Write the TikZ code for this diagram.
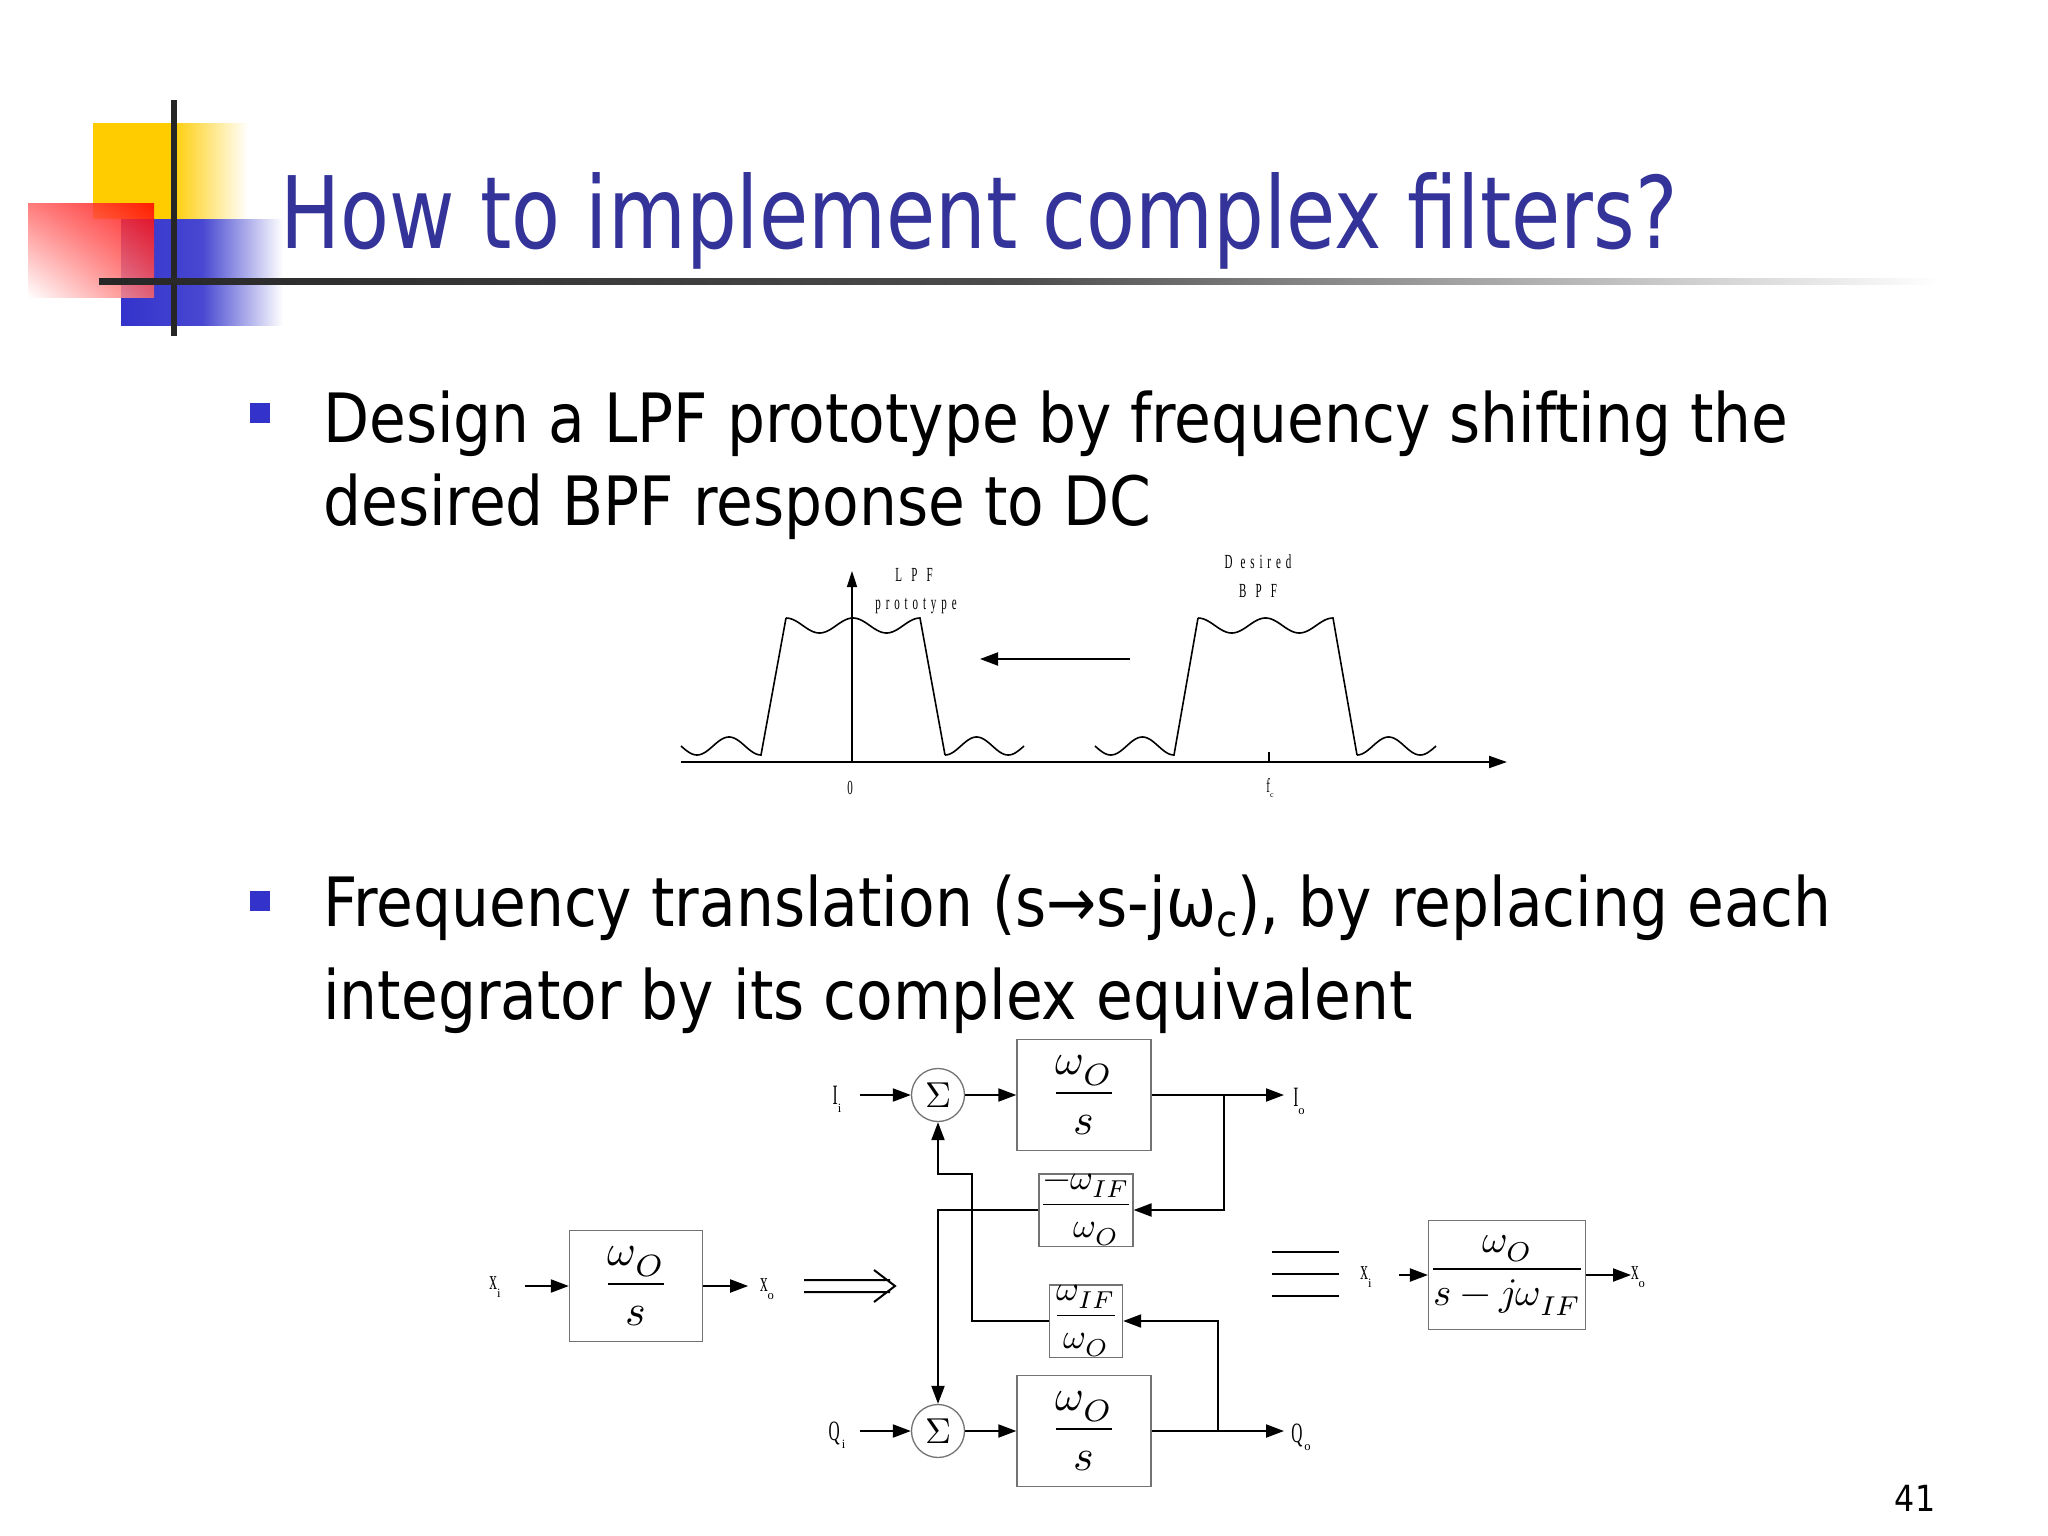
\documentclass[tikz,border=0pt]{standalone}
\usepackage{amsmath}
\usepackage{fontspec}
\usepackage{unicode-math}
\setmainfont{DejaVu Sans}[FakeStretch=0.88]
\newfontfamily\titlefont{DejaVu Sans}[FakeStretch=0.8]
\newfontfamily\lblfont{Liberation Serif}
\usetikzlibrary{arrows.meta,shapes.geometric,shadings}
\definecolor{titleblue}{RGB}{51,51,153}
\definecolor{bulletblue}{RGB}{51,51,204}
\definecolor{logoyellow}{RGB}{255,204,0}
\definecolor{logoblue}{RGB}{51,51,204}
\tikzset{
  blk/.style={draw=black!55,line width=1.3pt,minimum width=134pt,minimum height=111pt,inner sep=0pt},
  sblk/.style={draw=black!55,line width=1.3pt,minimum width=73pt,minimum height=72pt,inner sep=0pt},
  sumc/.style={circle,draw=black!55,line width=1.3pt,minimum size=53pt,inner sep=0pt},
  wire/.style={line width=2pt},
  arr/.style={line width=2pt,-{Triangle[length=18pt,width=13pt]}},
  lbl/.style={font=\lblfont\fontsize{28}{30}\selectfont,inner sep=0pt},
  tiny/.style={font=\lblfont\fontsize{20}{22}\selectfont,inner sep=0pt},
  bul/.style={fill=bulletblue,minimum size=20pt,inner sep=0pt},
  body/.style={anchor=base west,inner sep=0pt,font=\fontsize{68}{80}\selectfont},
  curve/.style={line width=1.6pt}
}
\newcommand{\sq}[1]{\scalebox{0.55}[1]{#1}}
\newcommand{\lsub}[2]{\sq{#1}\raisebox{-8pt}{\scalebox{0.45}{#2}}}
\newcommand{\bxmath}[1]{\scalebox{4.4}{$\displaystyle #1$}}
\newcommand{\sbxmath}[1]{\scalebox{3.5}{$\displaystyle #1$}}
\begin{document}
\begin{tikzpicture}[x=1pt,y=-1pt]
\useasboundingbox (0,0) rectangle (2048,1536);
\fill[white] (0,0) rectangle (2048,1536);
% logo
\shade[left color=logoyellow,right color=white,middle color=logoyellow] (93,124) rectangle (248,218);
\shade[left color=logoblue,right color=white,middle color=logoblue!90] (121,219) rectangle (283,325);
\shade[upper right=red,lower left=white,upper left=red!60,lower right=red!60,opacity=0.85] (28,203) rectangle (154,297);
\fill[black!85] (171,100) rectangle (177,336);
\shade[left color=black!85,right color=white,middle color=black!70] (99,278) rectangle (1940,284);
% title
\node[anchor=base west,inner sep=0pt,text=titleblue,font=\titlefont\fontsize{100}{110}\selectfont] (title) at (280,248) {How to implement complex filters?};
% bullets
\node[bul] (b1) at (260,413) {};
\node[body] (t1a) at (323,442) {Design a LPF prototype by frequency shifting the};
\node[body] (t1b) at (323,525) {desired BPF response to DC};
\node[bul] (b2) at (260,901) {};
\node[body] (t2a) at (323,926) {Frequency translation (s→s-jω\raisebox{-10pt}{\fontsize{44}{44}\selectfont c}), by replacing each};
\node[body] (t2b) at (323,1019) {integrator by its complex equivalent};
% spectrum
\begin{scope}[shift={(0,-6)}]
\coordinate (axL) at (681,768); \coordinate (axR) at (1507,768);
\draw[wire,-{Triangle[length=18pt,width=12pt]}] (axL) -- (axR);
\coordinate (vb) at (852,768); \coordinate (vt) at (852,577);
\draw[line width=1.6pt,-{Triangle[length=16pt,width=10pt]}] (vb) -- (vt);
\draw[line width=1.6pt] (1269,768) -- (1269,758);
\draw[curve] plot[domain=90:540,samples=50] ({681+(\x-90)/450*80},{761-18*(1+cos(\x))/2})
  -- (786,624) plot[domain=0:720,samples=70] ({786+\x/720*134},{624+15*(1-cos(\x))/2})
  -- (945,761) plot[domain=180:630,samples=50] ({945+(\x-180)/450*79},{761-18*(1+cos(\x))/2});
\draw[curve] plot[domain=90:540,samples=50] ({1095+(\x-90)/450*79},{761-18*(1+cos(\x))/2})
  -- (1198,624) plot[domain=0:720,samples=70] ({1198+\x/720*135},{624+15*(1-cos(\x))/2})
  -- (1357,761) plot[domain=180:630,samples=50] ({1357+(\x-180)/450*79},{761-18*(1+cos(\x))/2});
\coordinate (sa) at (1130,665); \coordinate (sb) at (980,665);
\draw[arr] (sa) -- (sb);
\node[tiny] (l1) at (914,581) {\sq{L\;\;\;P\;\;\;F}};
\node[tiny] (l2) at (916,612) {\sq{p\;\,r\;\,o\;\,t\;\,o\;\,t\;\,y\;\,p\;\,e}};
\node[tiny] (l3) at (1258,568) {\sq{D\;\;\,e\;\,s\;\,i\;\,r\;\,e\;\,d}};
\node[tiny] (l4) at (1258,597) {\sq{B\;\;\;P\;\;\;F}};
\node[tiny] (l5) at (850,794) {\sq{0}};
\node[tiny] (l6) at (1270,794) {\sq{f}\raisebox{-5pt}{\scalebox{0.4}{c}}};
\end{scope}
% left block
\node[blk,minimum height=111pt,minimum width=133pt] (lb) at (636,1286) {\bxmath{\frac{\omega_O}{s}}};
\node[lbl] (lxi) at (495,1287) {\lsub{x}{i}};
\node[lbl] (lxo) at (767,1289) {\lsub{x}{o}};
\coordinate (lxa) at (525,1286);
\draw[arr] (lxa) -- (lb.west);
\draw[arr] (lb.east) -- ++(45,0) coordinate (lxb);
\coordinate (d1) at (804,1280); \coordinate (d2) at (890,1280);
\coordinate (d3) at (804,1292); \coordinate (d4) at (890,1292);
\coordinate (d5) at (874,1270); \coordinate (d6) at (895,1286); \coordinate (d7) at (874,1302);
\draw[line width=2pt] (d1) -- (d2) (d3) -- (d4) (d5) -- (d6) -- (d7);
% complex block
\begin{scope}[shift={(-9,-11)}]
\node[sumc] (s1) at (947,1106) {\scalebox{3.6}{$\Sigma$}};
\node[sumc] (s2) at (947,1442) {\scalebox{3.6}{$\Sigma$}};
\node[blk] (i1) at (1093,1106) {\bxmath{\frac{\omega_O}{s}}};
\node[blk] (i2) at (1093,1442) {\bxmath{\frac{\omega_O}{s}}};
\node[sblk] (f1) at (1095,1221) {\sbxmath{\frac{-\omega_{IF}}{\;\;\omega_O}}};
\node[sblk] (f2) at (1095,1332) {\sbxmath{\frac{\omega_{IF}}{\omega_O}}};
\node[lbl] (Ii) at (846,1110) {\lsub{I}{i}};
\node[lbl] (Qi) at (846,1446) {\lsub{Q}{\,i}};
\node[lbl] (Io) at (1308,1112) {\lsub{I}{o}};
\node[lbl] (Qo) at (1310,1448) {\lsub{Q}{\,o}};
\coordinate (iia) at (869,1106); \coordinate (qia) at (869,1442);
\draw[arr] (iia) -- (s1.west);
\draw[arr] (qia) -- (s2.west);
\draw[arr] (s1.east) -- (i1.west);
\draw[arr] (s2.east) -- (i2.west);
\coordinate (ioe) at (1293,1106); \coordinate (qoe) at (1293,1442);
\draw[arr] (i1.east) -- (ioe);
\draw[arr] (i2.east) -- (qoe);
\coordinate (br1) at (1233,1106); \coordinate (br2) at (1227,1442);
\draw[arr] (br1) |- (f1.east);
\draw[arr] (br2) |- (f2.east);
\draw[arr] (f1.west) -| (s2.north);
\coordinate (k1) at (981,1332); \coordinate (k2) at (981,1185); \coordinate (k3) at (947,1185);
\draw[arr] (f2.west) -- (k1) -- (k2) -- (k3) -- (s1.south);
\end{scope}
% equivalence
\coordinate (e1a) at (1272,1252); \coordinate (e1b) at (1339,1252);
\coordinate (e2a) at (1272,1274); \coordinate (e2b) at (1339,1274);
\coordinate (e3a) at (1272,1296); \coordinate (e3b) at (1339,1296);
\draw[line width=2pt] (e1a) -- (e1b) (e2a) -- (e2b) (e3a) -- (e3b);
\node[blk,minimum width=134pt,minimum height=109pt] (rb) at (1507,1275) {\scalebox{3.9}{$\displaystyle\frac{\omega_O}{s-j\omega_{IF}}$}};
\node[lbl] (rxi) at (1366,1277) {\lsub{x}{i}};
\node[lbl] (rxo) at (1638,1277) {\lsub{x}{o}};
\coordinate (rxa) at (1399,1275);
\draw[arr] (rxa) -- (rb.west);
\draw[arr] (rb.east) -- ++(45,0) coordinate (rxb);
% page number
\node[anchor=base,inner sep=0pt,font=\fontsize{36}{40}\selectfont] (pn) at (1915,1511) {41};
\end{tikzpicture}
\end{document}
